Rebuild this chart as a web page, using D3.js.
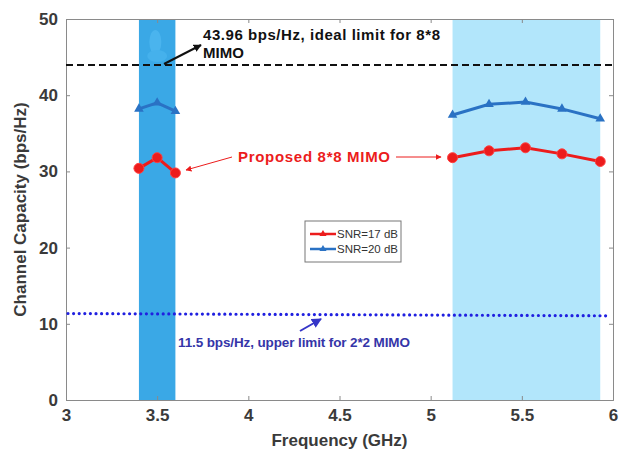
<!DOCTYPE html>
<html>
<head>
<meta charset="utf-8">
<script src="https://cdn.jsdelivr.net/npm/d3@7"></script>
<style>
  body { margin: 0; background: #fff; }
  svg text { font-family: "Liberation Sans", Arial, sans-serif; font-weight: bold; }
</style>
</head>
<body>
<svg id="chart" width="624" height="457"></svg>
<script>
// frequencies (GHz) en capaciteit (bps/Hz)
const freqLow = [3.4, 3.5, 3.6];
const freqHigh = [5.12, 5.32, 5.52, 5.72, 5.93];
const snr17Low = [30.4, 31.8, 29.8];
const snr17High = [31.8, 32.7, 33.1, 32.3, 31.3];
const snr20Low = [38.2, 39.0, 37.9];
const snr20High = [37.4, 38.8, 39.1, 38.2, 36.9];
const bandDark = [3.4, 3.6];
const bandLight = [5.12, 5.93];
const idealLimit = 43.96;
const limit22 = 11.2;
const xTicks = [3, 3.5, 4, 4.5, 5, 5.5, 6];
const yTicks = [0, 10, 20, 30, 40, 50];
const legendLabels = ['SNR=17 dB', 'SNR=20 dB'];

const svg = d3.select('#chart');
const links = 66, rechts = 613, boven = 19, onder = 400;

const x = d3.scaleLinear().domain([3, 6]).range([links, rechts]);
const y = d3.scaleLinear().domain([0, 50]).range([onder, boven]);

// banden
svg.append('rect')
  .attr('x', x(bandDark[0])).attr('y', boven)
  .attr('width', x(bandDark[1]) - x(bandDark[0])).attr('height', onder - boven)
  .attr('fill', '#3aa8e6');
svg.append('rect')
  .attr('x', x(bandLight[0])).attr('y', boven)
  .attr('width', x(bandLight[1]) - x(bandLight[0])).attr('height', onder - boven)
  .attr('fill', '#b2e6fb');

// vlek bovenin de donkere band
svg.append('ellipse').attr('cx', x(3.49)).attr('cy', 42).attr('rx', 6).attr('ry', 12).attr('fill', '#4ab4ee');
svg.append('ellipse').attr('cx', x(3.5)).attr('cy', 56).attr('rx', 10).attr('ry', 6).attr('fill', '#45b1ec');

// assen
svg.append('g').attr('transform', `translate(0,${onder})`)
  .call(d3.axisBottom(x).tickValues(xTicks).tickSize(-4).tickPadding(9).tickFormat(d3.format('')));
svg.append('g').attr('transform', `translate(${links},0)`)
  .call(d3.axisLeft(y).tickValues(yTicks).tickSize(-4).tickPadding(8));
svg.append('g').attr('transform', `translate(0,${boven})`)
  .call(d3.axisTop(x).tickValues(xTicks).tickSize(-4).tickFormat(''));
svg.append('g').attr('transform', `translate(${rechts},0)`)
  .call(d3.axisRight(y).tickValues(yTicks).tickSize(-4).tickFormat(''));

svg.selectAll('.domain').attr('stroke', '#8a8a8a');
svg.selectAll('.tick line').attr('stroke', '#8a8a8a');
svg.selectAll('.tick text').attr('fill', '#3a3a3a').style('font-size', '17px');

// lijnen voor limieten
svg.append('line')
  .attr('x1', x(3)).attr('x2', x(6)).attr('y1', y(idealLimit)).attr('y2', y(idealLimit))
  .attr('stroke', '#111').attr('stroke-width', 2).attr('stroke-dasharray', '7,4');
svg.append('line')
  .attr('x1', x(3) + 2).attr('x2', x(6) - 6).attr('y1', y(limit22 + 0.15)).attr('y2', y(limit22 - 0.15))
  .attr('stroke', '#2020e0').attr('stroke-width', 3.2)
  .attr('stroke-linecap', 'round').attr('stroke-dasharray', '0,5.6');

// series
const lijn = d3.line().x(d => x(d[0])).y(d => y(d[1]));
const driehoek = d3.symbol().type(d3.symbolTriangle).size(40);

function tekenSerie(freqs, waarden, kleur, marker) {
  const punten = freqs.map((f, i) => [f, waarden[i]]);
  svg.append('path').datum(punten).attr('d', lijn)
    .attr('fill', 'none').attr('stroke', kleur).attr('stroke-width', 3);
  punten.forEach(p => {
    if (marker === 'cirkel') {
      svg.append('circle').attr('cx', x(p[0])).attr('cy', y(p[1])).attr('r', 5)
        .attr('fill', kleur).attr('stroke', '#ff4040').attr('stroke-width', 1);
    } else {
      svg.append('path').attr('d', driehoek)
        .attr('transform', `translate(${x(p[0])},${y(p[1])})`).attr('fill', kleur);
    }
  });
}
tekenSerie(freqLow, snr20Low, '#2a72c4', 'driehoek');
tekenSerie(freqHigh, snr20High, '#2a72c4', 'driehoek');
tekenSerie(freqLow, snr17Low, '#ec1c1c', 'cirkel');
tekenSerie(freqHigh, snr17High, '#ec1c1c', 'cirkel');

// pijlpunten
const defs = svg.append('defs');
function pijl(id, kleur, grootte) {
  defs.append('marker').attr('id', id).attr('viewBox', '0 0 10 10')
    .attr('refX', 9).attr('refY', 5).attr('markerWidth', grootte).attr('markerHeight', grootte)
    .attr('orient', 'auto-start-reverse')
    .append('path').attr('d', 'M0,0 L10,5 L0,10 z').attr('fill', kleur);
}
pijl('pijlZwart', '#111', 4);
pijl('pijlRood', '#ec1c1c', 6);
pijl('pijlBlauw', '#3535c8', 5);

// annotaties
svg.append('line').attr('x1', 164).attr('y1', 64).attr('x2', 201).attr('y2', 45)
  .attr('stroke', '#111').attr('stroke-width', 2).attr('marker-end', 'url(#pijlZwart)');
svg.append('text').attr('x', 203).attr('y', 40).attr('fill', '#111').style('font-size', '15px')
  .attr('textLength', 237).attr('lengthAdjust', 'spacing')
  .text('43.96 bps/Hz, ideal limit for 8*8');
svg.append('text').attr('x', 203).attr('y', 58).attr('fill', '#111').style('font-size', '15px')
  .text('MIMO');

svg.append('text').attr('x', 238).attr('y', 162).attr('fill', '#ec1c1c').style('font-size', '15px')
  .attr('textLength', 152).attr('lengthAdjust', 'spacing')
  .text('Proposed 8*8 MIMO');
svg.append('line').attr('x1', 232).attr('y1', 157).attr('x2', 186).attr('y2', 170)
  .attr('stroke', '#ec1c1c').attr('stroke-width', 1).attr('marker-end', 'url(#pijlRood)');
svg.append('line').attr('x1', 396).attr('y1', 157).attr('x2', 441).attr('y2', 157)
  .attr('stroke', '#ec1c1c').attr('stroke-width', 1).attr('marker-end', 'url(#pijlRood)');

svg.append('text').attr('x', 178).attr('y', 347).attr('fill', '#3535a8').style('font-size', '13.5px')
  .attr('textLength', 232).attr('lengthAdjust', 'spacing')
  .text('11.5 bps/Hz, upper limit for 2*2 MIMO');
svg.append('line').attr('x1', 300).attr('y1', 331).attr('x2', 321).attr('y2', 319)
  .attr('stroke', '#3535c8').attr('stroke-width', 2).attr('marker-end', 'url(#pijlBlauw)');

// legenda
const leg = svg.append('g').attr('transform', 'translate(305,221)');
leg.append('rect').attr('width', 96).attr('height', 41)
  .attr('fill', '#fff').attr('stroke', '#777').attr('stroke-width', 1);
[['#ec1c1c', legendLabels[0]], ['#2a72c4', legendLabels[1]]].forEach((d, i) => {
  const ly = 13 + i * 15;
  leg.append('line').attr('x1', 5).attr('x2', 31).attr('y1', ly).attr('y2', ly)
    .attr('stroke', d[0]).attr('stroke-width', 2.5);
  leg.append('path').attr('d', d3.symbol().type(d3.symbolTriangle).size(22))
    .attr('transform', `translate(18,${ly})`).attr('fill', d[0]);
  leg.append('text').attr('x', 32).attr('y', ly + 4).attr('fill', '#333')
    .style('font-size', '10.5px').style('font-weight', 'normal')
    .attr('textLength', 61).attr('lengthAdjust', 'spacingAndGlyphs').text(d[1]);
});

// astitels
svg.append('text').attr('x', (links + rechts) / 2).attr('y', 446).attr('text-anchor', 'middle')
  .attr('fill', '#3a3a3a').style('font-size', '17px').text('Frequency (GHz)');
svg.append('text').attr('transform', `translate(26,${(boven + onder) / 2}) rotate(-90)`)
  .attr('text-anchor', 'middle').attr('fill', '#3a3a3a').style('font-size', '17px')
  .text('Channel Capacity (bps/Hz)');
</script>
</body>
</html>
